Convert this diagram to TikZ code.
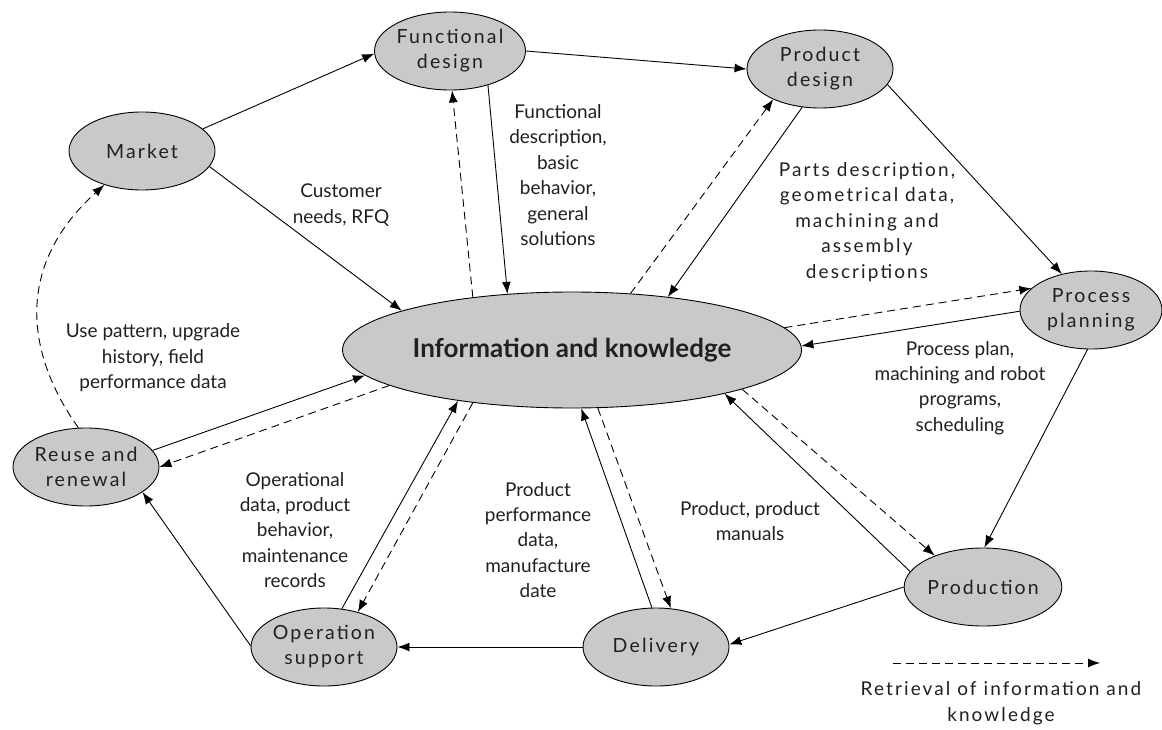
\documentclass[tikz,border=0pt]{standalone}
\usepackage{fontspec}
\setmainfont{Lato}
\newfontfamily\trackedfont[LetterSpace=11]{Lato}
\usetikzlibrary{arrows.meta,shapes.geometric}
\definecolor{bubble}{RGB}{200,201,203}
\definecolor{ink}{RGB}{35,31,32}

\begin{document}
\begin{tikzpicture}[x=1pt,y=-1pt,
  stage/.style={ellipse, draw=black, line width=0.9pt, fill=bubble,
    minimum width=146pt, minimum height=78pt, inner sep=0pt, align=center,
    text=ink, font=\trackedfont\fontsize{19.5}{25}\selectfont},
  hub/.style={ellipse, draw=black, line width=0.9pt, fill=bubble,
    minimum width=459pt, minimum height=116pt, inner sep=0pt,
    text=ink, font=\bfseries\fontsize{26}{30}\selectfont},
  note/.style={align=center, text=ink, inner sep=0pt,
    font=\fontsize{19}{25.4}\selectfont},
  trackednote/.style={note, font=\trackedfont\fontsize{19}{25.6}\selectfont},
  flow/.style={line width=0.9pt, -{Latex[length=12pt,width=9pt]}},
  fetch/.style={flow, dash pattern=on 8pt off 5pt},
]
\useasboundingbox (0,0) rectangle (1162,730);

% life-cycle stages
\node[stage] (market) at (142,151) {Market};
\node[stage] (fdesign) at (450,51) {Functional\\design};
\node[stage] (pdesign) at (820,69) {Product\\design};
\node[stage, minimum width=142pt] (planning) at (1091,310) {Process\\planning};
\node[stage] (production) at (983,587) {Production};
\node[stage] (delivery) at (656,647) {Delivery};
\node[stage] (operation) at (324,647) {Operation\\support};
\node[stage] (reuse) at (86,467) {Reuse and\\renewal};
\node[hub] (info) at (572,350) {Information and knowledge};

% flow labels
\node[note] (lcust) at (341,205) {Customer\\needs, RFQ};
\node[note] (lfunc) at (558,175) {Functional\\description,\\basic\\behavior,\\general\\solutions};
\node[trackednote] (lparts) at (867,222) {Parts description,\\geometrical data,\\machining and\\assembly\\descriptions};
\node[note] (lplan) at (960,388) {Process plan,\\machining and robot\\programs,\\scheduling};
\node[note] (luse) at (153,358) {Use pattern, upgrade\\history, field\\performance data};
\node[note] (loper) at (295,530) {Operational\\data, product\\behavior,\\maintenance\\records};
\node[note] (lperf) at (538,540) {Product\\performance\\data,\\manufacture\\date};
\node[note] (lprod) at (750,521) {Product, product\\manuals};

% main flow between stages
\draw[flow] (market.20) -- (fdesign.182);
\draw[flow] (market.347) -- (info.167);
\draw[flow] (fdesign.0) -- (pdesign.180);
\draw[flow] (fdesign.318) -- (info.139);
\draw[flow] (pdesign.347) -- (planning.129);
\draw[flow] (pdesign.245) -- (info.29);
\draw[flow] (planning.181) -- (info.1);
\draw[flow] (planning.265) -- (production.88);
\draw[flow] (production.168) -- (info.344);
\draw[flow] (production.180) -- (delivery.2);
\draw[flow] (delivery.96) -- (info.279);
\draw[flow] (delivery.180) -- (operation.0);
\draw[flow] (operation.65) -- (info.204);
\draw[flow] (operation.179) -- (reuse.336);
\draw[flow] (reuse.14) -- (info.187);

% retrieval from the knowledge base
\draw[fetch] (info.152) -- (fdesign.273);
\draw[fetch] (info.44) -- (pdesign.213);
\draw[fetch] (info.6) -- (planning.160);
\draw[fetch] (info.347) -- (production.147);
\draw[fetch] (info.294) -- (delivery.69);
\draw[fetch] (info.208) -- (operation.46);
\draw[fetch] (info.191) -- (reuse.0);
\draw[fetch] (reuse.101) .. controls (30,360) and (10,270) .. (market.222);

% key
\coordinate (keyA) at (893,663);
\coordinate (keyB) at (1100,663);
\draw[fetch] (keyA) -- (keyB);
\node[trackednote] (lkey) at (1001,703) {Retrieval of information and\\knowledge};
\end{tikzpicture}
\end{document}
